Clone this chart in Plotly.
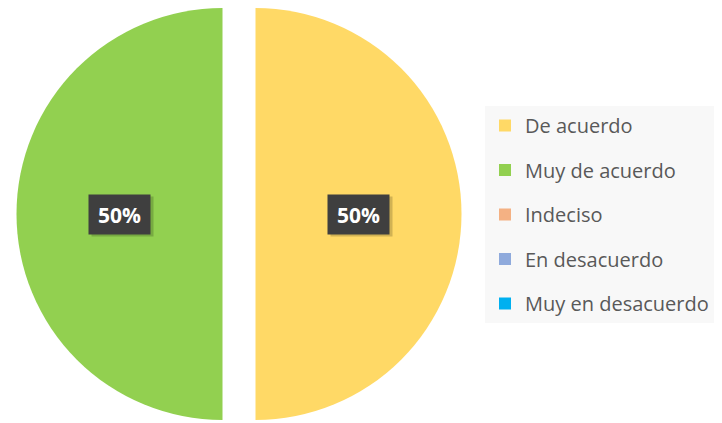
import plotly.graph_objects as go

# data
labels = ["De acuerdo", "Muy de acuerdo", "Indeciso", "En desacuerdo", "Muy en desacuerdo"]
values = [50, 50, 0, 0, 0]
colors = ["#FFD966", "#92D050", "#F4B183", "#8FAADC", "#00B0F0"]

W, H = 722, 423
OFF = 8            # page body margin the figure sits inside
R = 206            # pie radius in px
CX, CY = 239 - OFF, 206  # pie centre in px (top touches the figure edge)
GAP = 16.5         # horizontal offset of each half

fig = go.Figure()

# each half of the exploded pie is its own trace, the other slice transparent
total = sum(values)
offsets = [GAP, -GAP]
for i, dx in enumerate(offsets):
    cols = [c if j == i else "rgba(0,0,0,0)" for j, c in enumerate(colors[:2])]
    cx = CX + dx
    fig.add_trace(go.Pie(
        labels=labels[:2],
        values=values[:2],
        marker=dict(colors=cols, line=dict(width=0)),
        sort=False,
        direction="clockwise",
        rotation=0,
        textinfo="none",
        hoverinfo="skip",
        showlegend=False,
        domain=dict(x=[max(0, (cx - R) / W), min(1, (cx + R) / W)],
                    y=[max(0, 1 - (CY + R) / H), min(1, 1 - (CY - R) / H)]),
    ))

    # percentage label in a dark box, half a radius out along the slice middle
    pct = values[i] / total
    lx = cx + R / 2 * (1 if i == 0 else -1)
    # soft shadow box first, then the label itself
    fig.add_annotation(
        x=(lx + 3) / W, y=1 - (CY + 3) / H,
        xref="paper", yref="paper",
        xanchor="center", yanchor="middle",
        text=" ", showarrow=False,
        bgcolor="rgba(0,0,0,0.18)",
        width=49, height=27, borderpad=6,
    )
    fig.add_annotation(
        x=lx / W, y=1 - CY / H,
        xref="paper", yref="paper",
        xanchor="center", yanchor="middle",
        text=f"{pct * 100:.0f}%",
        showarrow=False,
        bgcolor="#3F3F3F",
        width=49, height=27, borderpad=6,
        font=dict(family="Open Sans", size=21, color="white", weight="bold"),
    )

# legend entries (all five categories, including the empty ones)
for lab, col in zip(labels, colors):
    fig.add_trace(go.Scatter(
        x=[None], y=[None], mode="markers",
        marker=dict(symbol="square", size=12, color=col),
        name=lab, legendgroup=lab,
    ))

fig.update_layout(
    width=W, height=H,
    margin=dict(l=0, r=0, t=0, b=0),
    paper_bgcolor="white",
    plot_bgcolor="white",
    xaxis=dict(visible=False),
    yaxis=dict(visible=False),
    legend=dict(
        x=(485 - OFF) / W, y=1 - (106 - OFF) / H, xanchor="left", yanchor="top",
        bgcolor="#F8F8F8",
        font=dict(family="Open Sans", size=20, color="#595959"),
        tracegroupgap=15.5,
        itemsizing="constant",
    ),
)

fig.write_html("out.html")
